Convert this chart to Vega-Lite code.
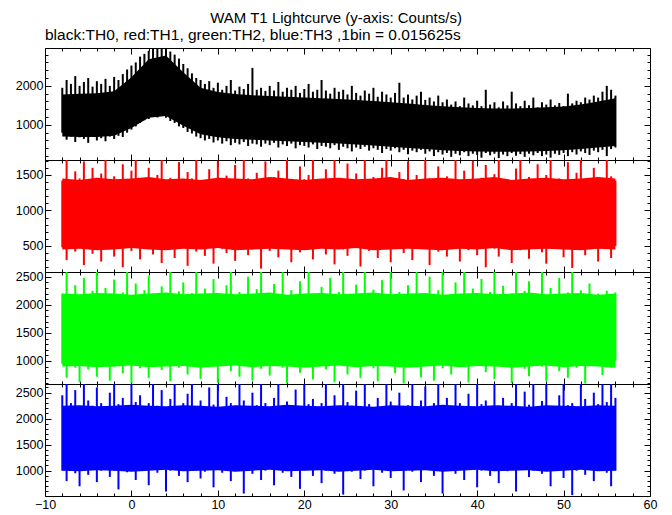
{
"$schema":"https://vega.github.io/schema/vega-lite/v6.json",
"background":"white",
"padding":{"left":14,"top":10,"right":5,"bottom":5},
"title":{"text":"WAM T1 Lightcurve (y-axis: Counts/s)","anchor":"middle","fontSize":15,"fontWeight":"normal","font":"Liberation Sans","color":"black","offset":2},
"datasets":{
"core":[
{"t":-8,"k0":700,"k1":1780,"r0":450,"r1":1450,"g0":900,"g1":2200,"b0":1000,"b1":2250},
{"t":-6,"k0":690,"k1":1800,"r0":460,"r1":1430,"g0":910,"g1":2190,"b0":990,"b1":2260},
{"t":-4,"k0":690,"k1":1810,"r0":440,"r1":1460,"g0":890,"g1":2210,"b0":1010,"b1":2240},
{"t":-2,"k0":720,"k1":1860,"r0":450,"r1":1440,"g0":900,"g1":2200,"b0":1000,"b1":2250},
{"t":0,"k0":920,"k1":2220,"r0":470,"r1":1450,"g0":920,"g1":2180,"b0":980,"b1":2270},
{"t":2,"k0":1180,"k1":2680,"r0":450,"r1":1470,"g0":890,"g1":2200,"b0":1000,"b1":2250},
{"t":4,"k0":1230,"k1":2780,"r0":440,"r1":1440,"g0":900,"g1":2220,"b0":1020,"b1":2240},
{"t":6,"k0":980,"k1":2350,"r0":460,"r1":1450,"g0":910,"g1":2190,"b0":990,"b1":2260},
{"t":8,"k0":760,"k1":1950,"r0":450,"r1":1430,"g0":880,"g1":2200,"b0":1000,"b1":2250},
{"t":10,"k0":680,"k1":1840,"r0":470,"r1":1460,"g0":900,"g1":2210,"b0":1010,"b1":2230},
{"t":12,"k0":640,"k1":1790,"r0":440,"r1":1450,"g0":920,"g1":2190,"b0":980,"b1":2260},
{"t":14,"k0":620,"k1":1760,"r0":450,"r1":1440,"g0":890,"g1":2200,"b0":1000,"b1":2250},
{"t":16,"k0":600,"k1":1740,"r0":460,"r1":1470,"g0":910,"g1":2220,"b0":1020,"b1":2240},
{"t":18,"k0":580,"k1":1720,"r0":450,"r1":1450,"g0":900,"g1":2180,"b0":990,"b1":2270},
{"t":20,"k0":560,"k1":1700,"r0":440,"r1":1430,"g0":880,"g1":2200,"b0":1000,"b1":2250},
{"t":22,"k0":540,"k1":1680,"r0":460,"r1":1450,"g0":900,"g1":2210,"b0":1010,"b1":2240},
{"t":24,"k0":520,"k1":1660,"r0":450,"r1":1460,"g0":920,"g1":2190,"b0":980,"b1":2260},
{"t":26,"k0":500,"k1":1640,"r0":470,"r1":1440,"g0":890,"g1":2200,"b0":1000,"b1":2250},
{"t":28,"k0":470,"k1":1610,"r0":440,"r1":1450,"g0":910,"g1":2220,"b0":1020,"b1":2230},
{"t":30,"k0":440,"k1":1580,"r0":450,"r1":1470,"g0":900,"g1":2190,"b0":990,"b1":2260},
{"t":32,"k0":410,"k1":1550,"r0":460,"r1":1430,"g0":880,"g1":2200,"b0":1000,"b1":2250},
{"t":34,"k0":380,"k1":1510,"r0":450,"r1":1450,"g0":900,"g1":2210,"b0":1010,"b1":2240},
{"t":36,"k0":350,"k1":1480,"r0":440,"r1":1460,"g0":920,"g1":2180,"b0":980,"b1":2270},
{"t":38,"k0":330,"k1":1450,"r0":460,"r1":1440,"g0":890,"g1":2200,"b0":1000,"b1":2250},
{"t":40,"k0":320,"k1":1430,"r0":450,"r1":1450,"g0":910,"g1":2210,"b0":1020,"b1":2240},
{"t":42,"k0":310,"k1":1420,"r0":470,"r1":1470,"g0":900,"g1":2190,"b0":990,"b1":2260},
{"t":44,"k0":310,"k1":1420,"r0":440,"r1":1430,"g0":880,"g1":2200,"b0":1000,"b1":2250},
{"t":46,"k0":320,"k1":1430,"r0":450,"r1":1450,"g0":900,"g1":2220,"b0":1010,"b1":2230},
{"t":48,"k0":330,"k1":1450,"r0":460,"r1":1460,"g0":920,"g1":2190,"b0":980,"b1":2260},
{"t":50,"k0":350,"k1":1470,"r0":450,"r1":1440,"g0":890,"g1":2200,"b0":1000,"b1":2250},
{"t":52,"k0":380,"k1":1520,"r0":440,"r1":1450,"g0":910,"g1":2210,"b0":1020,"b1":2240},
{"t":54,"k0":420,"k1":1600,"r0":460,"r1":1470,"g0":900,"g1":2180,"b0":990,"b1":2260},
{"t":56,"k0":460,"k1":1680,"r0":450,"r1":1450,"g0":880,"g1":2200,"b0":1000,"b1":2250}
],
"lc":[
{"t":-8,"k0":800,"k1":1950,"r0":480,"r1":1420,"g0":950,"g1":2200,"b0":1000,"b1":2450},
{"t":-7.5,"k0":620,"k1":2150,"r0":300,"r1":1710,"g0":700,"g1":2585,"b0":800,"b1":2667},
{"t":-7,"k0":700,"k1":2050,"r0":520,"r1":1380,"g0":1000,"g1":2150,"b0":1080,"b1":2300},
{"t":-6.5,"k0":560,"k1":2250,"r0":420,"r1":1550,"g0":880,"g1":2350,"b0":950,"b1":2550},
{"t":-6,"k0":680,"k1":2000,"r0":550,"r1":1450,"g0":620,"g1":2100,"b0":700,"b1":2200},
{"t":-5.5,"k0":640,"k1":2100,"r0":230,"r1":1690,"g0":960,"g1":2480,"b0":1050,"b1":2667},
{"t":-5,"k0":540,"k1":2200,"r0":470,"r1":1400,"g0":850,"g1":2180,"b0":920,"b1":2350},
{"t":-4.5,"k0":700,"k1":1980,"r0":390,"r1":1600,"g0":1020,"g1":2250,"b0":1100,"b1":2250},
{"t":-4,"k0":600,"k1":2120,"r0":510,"r1":1360,"g0":720,"g1":2585,"b0":780,"b1":2600},
{"t":-3.5,"k0":660,"k1":2050,"r0":280,"r1":1520,"g0":930,"g1":2120,"b0":1000,"b1":2300},
{"t":-3,"k0":580,"k1":2180,"r0":460,"r1":1710,"g0":990,"g1":2300,"b0":1060,"b1":2180},
{"t":-2.5,"k0":700,"k1":2000,"r0":540,"r1":1430,"g0":650,"g1":2160,"b0":880,"b1":2500},
{"t":-2,"k0":640,"k1":2230,"r0":350,"r1":1480,"g0":900,"g1":2450,"b0":1000,"b1":2667},
{"t":-1.5,"k0":720,"k1":2150,"r0":500,"r1":1390,"g0":1010,"g1":2090,"b0":640,"b1":2280},
{"t":-1,"k0":690,"k1":2300,"r0":200,"r1":1650,"g0":780,"g1":2220,"b0":1080,"b1":2400},
{"t":-0.5,"k0":800,"k1":2420,"r0":480,"r1":1410,"g0":940,"g1":2585,"b0":970,"b1":2150},
{"t":0,"k0":880,"k1":2520,"r0":430,"r1":1560,"g0":600,"g1":2140,"b0":1040,"b1":2667},
{"t":0.5,"k0":960,"k1":2600,"r0":520,"r1":1710,"g0":980,"g1":2380,"b0":820,"b1":2320},
{"t":1,"k0":1050,"k1":2750,"r0":310,"r1":1370,"g0":870,"g1":2110,"b0":1000,"b1":2450},
{"t":1.5,"k0":1120,"k1":2820,"r0":470,"r1":1440,"g0":1000,"g1":2260,"b0":1090,"b1":2200},
{"t":2,"k0":1150,"k1":2900,"r0":550,"r1":1600,"g0":700,"g1":2520,"b0":720,"b1":2300},
{"t":2.5,"k0":1250,"k1":2970,"r0":380,"r1":1400,"g0":950,"g1":2170,"b0":1020,"b1":2667},
{"t":3,"k0":1190,"k1":2970,"r0":490,"r1":1500,"g0":1020,"g1":2100,"b0":960,"b1":2250},
{"t":3.5,"k0":1260,"k1":2950,"r0":260,"r1":1710,"g0":840,"g1":2330,"b0":1080,"b1":2550},
{"t":4,"k0":1180,"k1":2970,"r0":510,"r1":1380,"g0":910,"g1":2190,"b0":600,"b1":2160},
{"t":4.5,"k0":1100,"k1":2880,"r0":450,"r1":1460,"g0":640,"g1":2585,"b0":1000,"b1":2380},
{"t":5,"k0":1050,"k1":2800,"r0":330,"r1":1420,"g0":990,"g1":2080,"b0":1050,"b1":2667},
{"t":5.5,"k0":960,"k1":2700,"r0":530,"r1":1680,"g0":880,"g1":2240,"b0":900,"b1":2230},
{"t":6,"k0":920,"k1":2560,"r0":470,"r1":1390,"g0":1000,"g1":2400,"b0":1090,"b1":2300},
{"t":6.5,"k0":820,"k1":2450,"r0":220,"r1":1540,"g0":760,"g1":2130,"b0":780,"b1":2480},
{"t":7,"k0":780,"k1":2320,"r0":500,"r1":1450,"g0":930,"g1":2210,"b0":1010,"b1":2667},
{"t":7.5,"k0":700,"k1":2200,"r0":420,"r1":1710,"g0":1010,"g1":2585,"b0":1070,"b1":2200},
{"t":8,"k0":660,"k1":2150,"r0":540,"r1":1410,"g0":680,"g1":2150,"b0":850,"b1":2350},
{"t":8.5,"k0":600,"k1":2050,"r0":360,"r1":1370,"g0":960,"g1":2290,"b0":980,"b1":2150},
{"t":9,"k0":640,"k1":2120,"r0":480,"r1":1580,"g0":890,"g1":2100,"b0":1100,"b1":2600},
{"t":9.5,"k0":550,"k1":1950,"r0":250,"r1":1430,"g0":1000,"g1":2460,"b0":680,"b1":2270},
{"t":10,"k0":600,"k1":2080,"r0":520,"r1":1700,"g0":610,"g1":2180,"b0":1030,"b1":2667},
{"t":10.5,"k0":520,"k1":1900,"r0":460,"r1":1400,"g0":940,"g1":2120,"b0":960,"b1":2190},
{"t":11,"k0":580,"k1":2000,"r0":400,"r1":1490,"g0":1020,"g1":2350,"b0":1080,"b1":2420},
{"t":11.5,"k0":480,"k1":2150,"r0":530,"r1":1360,"g0":820,"g1":2585,"b0":800,"b1":2300},
{"t":12,"k0":540,"k1":1880,"r0":290,"r1":1640,"g0":970,"g1":2090,"b0":1000,"b1":2220},
{"t":12.5,"k0":500,"k1":1980,"r0":490,"r1":1420,"g0":720,"g1":2230,"b0":1060,"b1":2667},
{"t":13,"k0":560,"k1":1920,"r0":510,"r1":1710,"g0":1000,"g1":2160,"b0":560,"b1":2350},
{"t":13.5,"k0":460,"k1":2050,"r0":370,"r1":1450,"g0":900,"g1":2500,"b0":1020,"b1":2180},
{"t":14,"k0":520,"k1":2460,"r0":450,"r1":1390,"g0":650,"g1":2110,"b0":940,"b1":2500},
{"t":14.5,"k0":500,"k1":1900,"r0":540,"r1":1530,"g0":980,"g1":2280,"b0":1090,"b1":2260},
{"t":15,"k0":440,"k1":1950,"r0":180,"r1":1410,"g0":860,"g1":2585,"b0":820,"b1":2667},
{"t":15.5,"k0":520,"k1":1870,"r0":480,"r1":1690,"g0":1010,"g1":2140,"b0":1000,"b1":2300},
{"t":16,"k0":480,"k1":2000,"r0":430,"r1":1380,"g0":740,"g1":2200,"b0":1050,"b1":2170},
{"t":16.5,"k0":540,"k1":1880,"r0":520,"r1":1470,"g0":950,"g1":2370,"b0":720,"b1":2400},
{"t":17,"k0":420,"k1":2100,"r0":340,"r1":1560,"g0":1000,"g1":2100,"b0":1080,"b1":2667},
{"t":17.5,"k0":500,"k1":1850,"r0":500,"r1":1400,"g0":880,"g1":2585,"b0":960,"b1":2240},
{"t":18,"k0":460,"k1":1950,"r0":470,"r1":1710,"g0":600,"g1":2170,"b0":1040,"b1":2330},
{"t":18.5,"k0":520,"k1":1900,"r0":270,"r1":1430,"g0":960,"g1":2260,"b0":880,"b1":2150},
{"t":19,"k0":400,"k1":2000,"r0":530,"r1":1370,"g0":1020,"g1":2080,"b0":1100,"b1":2560},
{"t":19.5,"k0":480,"k1":1820,"r0":410,"r1":1620,"g0":790,"g1":2420,"b0":650,"b1":2200},
{"t":20,"k0":460,"k1":1920,"r0":490,"r1":1440,"g0":930,"g1":2150,"b0":1010,"b1":2667},
{"t":20.5,"k0":420,"k1":2050,"r0":550,"r1":1500,"g0":990,"g1":2585,"b0":1070,"b1":2280},
{"t":21,"k0":500,"k1":1850,"r0":310,"r1":1710,"g0":670,"g1":2190,"b0":900,"b1":2380},
{"t":21.5,"k0":380,"k1":1900,"r0":460,"r1":1390,"g0":910,"g1":2110,"b0":1030,"b1":2190},
{"t":22,"k0":460,"k1":2150,"r0":520,"r1":1420,"g0":1010,"g1":2320,"b0":760,"b1":2300},
{"t":22.5,"k0":440,"k1":1880,"r0":380,"r1":1580,"g0":850,"g1":2140,"b0":1000,"b1":2667},
{"t":23,"k0":400,"k1":1800,"r0":490,"r1":1360,"g0":960,"g1":2480,"b0":1090,"b1":2210},
{"t":23.5,"k0":480,"k1":1950,"r0":240,"r1":1710,"g0":620,"g1":2100,"b0":940,"b1":2450},
{"t":24,"k0":360,"k1":1850,"r0":510,"r1":1450,"g0":1000,"g1":2230,"b0":1050,"b1":2170},
{"t":24.5,"k0":440,"k1":1900,"r0":450,"r1":1410,"g0":920,"g1":2585,"b0":540,"b1":2667},
{"t":25,"k0":400,"k1":1780,"r0":360,"r1":1660,"g0":760,"g1":2160,"b0":1020,"b1":2320},
{"t":25.5,"k0":320,"k1":2000,"r0":540,"r1":1390,"g0":980,"g1":2090,"b0":980,"b1":2250},
{"t":26,"k0":420,"k1":1820,"r0":470,"r1":1520,"g0":1020,"g1":2360,"b0":1080,"b1":2540},
{"t":26.5,"k0":380,"k1":1750,"r0":210,"r1":1430,"g0":700,"g1":2200,"b0":840,"b1":2180},
{"t":27,"k0":440,"k1":1880,"r0":500,"r1":1710,"g0":940,"g1":2585,"b0":1000,"b1":2667},
{"t":27.5,"k0":340,"k1":1800,"r0":430,"r1":1380,"g0":1000,"g1":2120,"b0":1060,"b1":2280},
{"t":28,"k0":400,"k1":1950,"r0":530,"r1":1470,"g0":870,"g1":2270,"b0":700,"b1":2200},
{"t":28.5,"k0":360,"k1":1720,"r0":330,"r1":1400,"g0":640,"g1":2150,"b0":1030,"b1":2400},
{"t":29,"k0":280,"k1":1850,"r0":480,"r1":1600,"g0":990,"g1":2440,"b0":960,"b1":2160},
{"t":29.5,"k0":380,"k1":1780,"r0":520,"r1":1710,"g0":910,"g1":2100,"b0":1090,"b1":2667},
{"t":30,"k0":340,"k1":1700,"r0":270,"r1":1420,"g0":1020,"g1":2585,"b0":860,"b1":2330},
{"t":30.5,"k0":400,"k1":1820,"r0":460,"r1":1370,"g0":780,"g1":2180,"b0":1010,"b1":2230},
{"t":31,"k0":300,"k1":2080,"r0":540,"r1":1540,"g0":950,"g1":2230,"b0":1070,"b1":2500},
{"t":31.5,"k0":360,"k1":1700,"r0":400,"r1":1440,"g0":600,"g1":2090,"b0":620,"b1":2190},
{"t":32,"k0":250,"k1":1780,"r0":490,"r1":1690,"g0":1000,"g1":2350,"b0":1040,"b1":2260},
{"t":32.5,"k0":340,"k1":1650,"r0":300,"r1":1410,"g0":890,"g1":2160,"b0":980,"b1":2667},
{"t":33,"k0":300,"k1":1750,"r0":510,"r1":1500,"g0":960,"g1":2585,"b0":1100,"b1":2180},
{"t":33.5,"k0":360,"k1":1850,"r0":470,"r1":1380,"g0":710,"g1":2110,"b0":780,"b1":2350},
{"t":34,"k0":260,"k1":1640,"r0":550,"r1":1710,"g0":1010,"g1":2200,"b0":1020,"b1":2620},
{"t":34.5,"k0":320,"k1":1700,"r0":230,"r1":1450,"g0":930,"g1":2500,"b0":1060,"b1":2210},
{"t":35,"k0":200,"k1":1600,"r0":480,"r1":1400,"g0":650,"g1":2140,"b0":900,"b1":2300},
{"t":35.5,"k0":300,"k1":1750,"r0":420,"r1":1620,"g0":980,"g1":2260,"b0":1000,"b1":2667},
{"t":36,"k0":240,"k1":1580,"r0":520,"r1":1360,"g0":870,"g1":2585,"b0":560,"b1":2170},
{"t":36.5,"k0":280,"k1":1650,"r0":350,"r1":1480,"g0":1000,"g1":2100,"b0":1080,"b1":2400},
{"t":37,"k0":180,"k1":1520,"r0":470,"r1":1430,"g0":760,"g1":2180,"b0":1010,"b1":2240},
{"t":37.5,"k0":260,"k1":1600,"r0":540,"r1":1710,"g0":950,"g1":2400,"b0":940,"b1":2667},
{"t":38,"k0":220,"k1":1480,"r0":280,"r1":1390,"g0":1020,"g1":2120,"b0":1070,"b1":2300},
{"t":38.5,"k0":300,"k1":1700,"r0":500,"r1":1560,"g0":900,"g1":2585,"b0":820,"b1":2190},
{"t":39,"k0":200,"k1":1550,"r0":440,"r1":1420,"g0":620,"g1":2150,"b0":1040,"b1":2480},
{"t":39.5,"k0":260,"k1":1500,"r0":520,"r1":1700,"g0":990,"g1":2290,"b0":1090,"b1":2220},
{"t":40,"k0":230,"k1":1620,"r0":370,"r1":1370,"g0":940,"g1":2090,"b0":680,"b1":2667},
{"t":40.5,"k0":160,"k1":1480,"r0":490,"r1":1460,"g0":1000,"g1":2460,"b0":1000,"b1":2280},
{"t":41,"k0":280,"k1":1900,"r0":200,"r1":1640,"g0":800,"g1":2170,"b0":1060,"b1":2350},
{"t":41.5,"k0":220,"k1":1520,"r0":510,"r1":1400,"g0":960,"g1":2230,"b0":900,"b1":2160},
{"t":42,"k0":260,"k1":1580,"r0":460,"r1":1510,"g0":680,"g1":2585,"b0":1030,"b1":2667},
{"t":42.5,"k0":150,"k1":1450,"r0":350,"r1":1710,"g0":1010,"g1":2110,"b0":760,"b1":2250},
{"t":43,"k0":240,"k1":1600,"r0":530,"r1":1380,"g0":920,"g1":2340,"b0":1080,"b1":2400},
{"t":43.5,"k0":200,"k1":1500,"r0":480,"r1":1440,"g0":980,"g1":2160,"b0":990,"b1":2180},
{"t":44,"k0":280,"k1":1850,"r0":260,"r1":1410,"g0":610,"g1":2200,"b0":1050,"b1":2300},
{"t":44.5,"k0":210,"k1":1550,"r0":500,"r1":1590,"g0":950,"g1":2585,"b0":600,"b1":2667},
{"t":45,"k0":250,"k1":1480,"r0":440,"r1":1710,"g0":1000,"g1":2080,"b0":1020,"b1":2200},
{"t":45.5,"k0":180,"k1":1620,"r0":540,"r1":1390,"g0":860,"g1":2250,"b0":1070,"b1":2520},
{"t":46,"k0":260,"k1":1500,"r0":320,"r1":1470,"g0":730,"g1":2420,"b0":880,"b1":2270},
{"t":46.5,"k0":220,"k1":1700,"r0":490,"r1":1360,"g0":990,"g1":2130,"b0":1000,"b1":2667},
{"t":47,"k0":280,"k1":1450,"r0":520,"r1":1650,"g0":1020,"g1":2190,"b0":1090,"b1":2190},
{"t":47.5,"k0":200,"k1":1580,"r0":410,"r1":1420,"g0":900,"g1":2585,"b0":940,"b1":2340},
{"t":48,"k0":240,"k1":1520,"r0":250,"r1":1500,"g0":640,"g1":2150,"b0":1040,"b1":2667},
{"t":48.5,"k0":160,"k1":1650,"r0":500,"r1":1710,"g0":960,"g1":2300,"b0":700,"b1":2230},
{"t":49,"k0":260,"k1":1500,"r0":470,"r1":1400,"g0":1000,"g1":2100,"b0":1010,"b1":2170},
{"t":49.5,"k0":230,"k1":1560,"r0":530,"r1":1450,"g0":820,"g1":2480,"b0":1080,"b1":2450},
{"t":50,"k0":280,"k1":1480,"r0":340,"r1":1380,"g0":940,"g1":2170,"b0":860,"b1":2667},
{"t":50.5,"k0":200,"k1":1800,"r0":480,"r1":1680,"g0":700,"g1":2220,"b0":1030,"b1":2260},
{"t":51,"k0":300,"k1":1550,"r0":190,"r1":1430,"g0":1010,"g1":2585,"b0":530,"b1":2300},
{"t":51.5,"k0":240,"k1":1620,"r0":510,"r1":1530,"g0":880,"g1":2120,"b0":1000,"b1":2200},
{"t":52,"k0":320,"k1":1580,"r0":450,"r1":1710,"g0":960,"g1":2260,"b0":1060,"b1":2667},
{"t":52.5,"k0":280,"k1":1700,"r0":370,"r1":1390,"g0":600,"g1":2140,"b0":920,"b1":2380},
{"t":53,"k0":230,"k1":1650,"r0":540,"r1":1410,"g0":990,"g1":2380,"b0":1080,"b1":2210},
{"t":53.5,"k0":340,"k1":1750,"r0":490,"r1":1600,"g0":920,"g1":2100,"b0":800,"b1":2500},
{"t":54,"k0":300,"k1":1700,"r0":280,"r1":1440,"g0":1010,"g1":2200,"b0":1020,"b1":2280},
{"t":54.5,"k0":360,"k1":1850,"r0":510,"r1":1370,"g0":750,"g1":2150,"b0":1050,"b1":2667},
{"t":55,"k0":200,"k1":2000,"r0":460,"r1":1710,"g0":950,"g1":2250,"b0":960,"b1":2320},
{"t":55.5,"k0":380,"k1":1900,"r0":330,"r1":1480,"g0":880,"g1":2180,"b0":700,"b1":2667},
{"t":56,"k0":420,"k1":1750,"r0":500,"r1":1420,"g0":1000,"g1":2220,"b0":1000,"b1":2400}
]},
"data":{"name":"lc"},
"spacing":0,
"bounds":"flush",
"vconcat":[
{"width":605,"height":112,
 "title":{"text":"black:TH0, red:TH1, green:TH2, blue:TH3 ,1bin = 0.015625s","anchor":"start","frame":"group","fontSize":15.5,"fontWeight":"normal","font":"Liberation Sans","color":"black","offset":4},
 "layer":[
  {"data":{"name":"core"},"mark":{"type":"area","color":"#000000","clip":true},
   "encoding":{
    "x":{"field":"t","type":"quantitative","scale":{"domain":[-10,60],"nice":false,"zero":false},"axis":{"orient":"bottom","values":[-10,0,10,20,30,40,50,60],"labels":false,"title":null,"offset":-6,"tickSize":6}},
    "y":{"field":"k0","type":"quantitative","scale":{"domain":[100,2970],"nice":false,"zero":false},"axis":{"orient":"left","values":[1000,2000],"format":"d","title":null,"offset":-6,"tickSize":6}},
    "y2":{"field":"k1"}}},
  {"mark":{"type":"rule","color":"#000000","strokeWidth":2,"clip":true},
   "encoding":{
    "x":{"field":"t","type":"quantitative","scale":{"domain":[-10,60],"nice":false,"zero":false},"axis":{"orient":"bottom","values":[-8,-6,-4,-2,2,4,6,8,12,14,16,18,22,24,26,28,32,34,36,38,42,44,46,48,52,54,56,58],"labels":false,"title":null,"offset":-3,"tickSize":3}},
    "y":{"field":"k0","type":"quantitative","scale":{"domain":[100,2970],"nice":false,"zero":false},"axis":{"orient":"left","values":[200,400,600,800,1200,1400,1600,1800,2200,2400,2600,2800],"labels":false,"title":null,"offset":-3,"tickSize":3}},
    "y2":{"field":"k1"}}},
  {"mark":{"type":"point","opacity":0},
   "encoding":{
    "x":{"field":"t","type":"quantitative","scale":{"domain":[-10,60],"nice":false,"zero":false},"axis":{"orient":"top","values":[-10,0,10,20,30,40,50,60],"labels":false,"title":null,"offset":-6,"tickSize":6}},
    "y":{"field":"k0","type":"quantitative","scale":{"domain":[100,2970],"nice":false,"zero":false},"axis":{"orient":"right","values":[1000,2000],"labels":false,"title":null,"offset":-6,"tickSize":6}}}},
  {"mark":{"type":"point","opacity":0},
   "encoding":{
    "x":{"field":"t","type":"quantitative","scale":{"domain":[-10,60],"nice":false,"zero":false},"axis":{"orient":"top","values":[-8,-6,-4,-2,2,4,6,8,12,14,16,18,22,24,26,28,32,34,36,38,42,44,46,48,52,54,56,58],"labels":false,"title":null,"offset":-3,"tickSize":3}},
    "y":{"field":"k0","type":"quantitative","scale":{"domain":[100,2970],"nice":false,"zero":false},"axis":{"orient":"right","values":[200,400,600,800,1200,1400,1600,1800,2200,2400,2600,2800],"labels":false,"title":null,"offset":-3,"tickSize":3}}}}
 ],
 "resolve":{"axis":{"x":"independent","y":"independent"}}},
{"width":605,"height":112,
 "layer":[
  {"data":{"name":"core"},"mark":{"type":"area","color":"#ff0000","clip":true},
   "encoding":{
    "x":{"field":"t","type":"quantitative","scale":{"domain":[-10,60],"nice":false,"zero":false},"axis":{"orient":"bottom","values":[-10,0,10,20,30,40,50,60],"labels":false,"title":null,"offset":-6,"tickSize":6}},
    "y":{"field":"r0","type":"quantitative","scale":{"domain":[133,1710],"nice":false,"zero":false},"axis":{"orient":"left","values":[500,1000,1500],"format":"d","title":null,"offset":-6,"tickSize":6}},
    "y2":{"field":"r1"}}},
  {"mark":{"type":"rule","color":"#ff0000","strokeWidth":2,"clip":true},
   "encoding":{
    "x":{"field":"t","type":"quantitative","scale":{"domain":[-10,60],"nice":false,"zero":false},"axis":{"orient":"bottom","values":[-8,-6,-4,-2,2,4,6,8,12,14,16,18,22,24,26,28,32,34,36,38,42,44,46,48,52,54,56,58],"labels":false,"title":null,"offset":-3,"tickSize":3}},
    "y":{"field":"r0","type":"quantitative","scale":{"domain":[133,1710],"nice":false,"zero":false},"axis":{"orient":"left","values":[200,300,400,600,700,800,900,1100,1200,1300,1400,1600,1700],"labels":false,"title":null,"offset":-3,"tickSize":3}},
    "y2":{"field":"r1"}}},
  {"mark":{"type":"point","opacity":0},
   "encoding":{
    "x":{"field":"t","type":"quantitative","scale":{"domain":[-10,60],"nice":false,"zero":false},"axis":{"orient":"top","values":[-10,0,10,20,30,40,50,60],"labels":false,"title":null,"offset":-6,"tickSize":6}},
    "y":{"field":"r0","type":"quantitative","scale":{"domain":[133,1710],"nice":false,"zero":false},"axis":{"orient":"right","values":[500,1000,1500],"labels":false,"title":null,"offset":-6,"tickSize":6}}}},
  {"mark":{"type":"point","opacity":0},
   "encoding":{
    "x":{"field":"t","type":"quantitative","scale":{"domain":[-10,60],"nice":false,"zero":false},"axis":{"orient":"top","values":[-8,-6,-4,-2,2,4,6,8,12,14,16,18,22,24,26,28,32,34,36,38,42,44,46,48,52,54,56,58],"labels":false,"title":null,"offset":-3,"tickSize":3}},
    "y":{"field":"r0","type":"quantitative","scale":{"domain":[133,1710],"nice":false,"zero":false},"axis":{"orient":"right","values":[200,300,400,600,700,800,900,1100,1200,1300,1400,1600,1700],"labels":false,"title":null,"offset":-3,"tickSize":3}}}}
 ],
 "resolve":{"axis":{"x":"independent","y":"independent"}}},
{"width":605,"height":112,
 "layer":[
  {"data":{"name":"core"},"mark":{"type":"area","color":"#00ff00","clip":true},
   "encoding":{
    "x":{"field":"t","type":"quantitative","scale":{"domain":[-10,60],"nice":false,"zero":false},"axis":{"orient":"bottom","values":[-10,0,10,20,30,40,50,60],"labels":false,"title":null,"offset":-6,"tickSize":6}},
    "y":{"field":"g0","type":"quantitative","scale":{"domain":[590,2585],"nice":false,"zero":false},"axis":{"orient":"left","values":[1000,1500,2000,2500],"format":"d","title":null,"offset":-6,"tickSize":6}},
    "y2":{"field":"g1"}}},
  {"mark":{"type":"rule","color":"#00ff00","strokeWidth":2,"clip":true},
   "encoding":{
    "x":{"field":"t","type":"quantitative","scale":{"domain":[-10,60],"nice":false,"zero":false},"axis":{"orient":"bottom","values":[-8,-6,-4,-2,2,4,6,8,12,14,16,18,22,24,26,28,32,34,36,38,42,44,46,48,52,54,56,58],"labels":false,"title":null,"offset":-3,"tickSize":3}},
    "y":{"field":"g0","type":"quantitative","scale":{"domain":[590,2585],"nice":false,"zero":false},"axis":{"orient":"left","values":[600,700,800,900,1100,1200,1300,1400,1600,1700,1800,1900,2100,2200,2300,2400],"labels":false,"title":null,"offset":-3,"tickSize":3}},
    "y2":{"field":"g1"}}},
  {"mark":{"type":"point","opacity":0},
   "encoding":{
    "x":{"field":"t","type":"quantitative","scale":{"domain":[-10,60],"nice":false,"zero":false},"axis":{"orient":"top","values":[-10,0,10,20,30,40,50,60],"labels":false,"title":null,"offset":-6,"tickSize":6}},
    "y":{"field":"g0","type":"quantitative","scale":{"domain":[590,2585],"nice":false,"zero":false},"axis":{"orient":"right","values":[1000,1500,2000,2500],"labels":false,"title":null,"offset":-6,"tickSize":6}}}},
  {"mark":{"type":"point","opacity":0},
   "encoding":{
    "x":{"field":"t","type":"quantitative","scale":{"domain":[-10,60],"nice":false,"zero":false},"axis":{"orient":"top","values":[-8,-6,-4,-2,2,4,6,8,12,14,16,18,22,24,26,28,32,34,36,38,42,44,46,48,52,54,56,58],"labels":false,"title":null,"offset":-3,"tickSize":3}},
    "y":{"field":"g0","type":"quantitative","scale":{"domain":[590,2585],"nice":false,"zero":false},"axis":{"orient":"right","values":[600,700,800,900,1100,1200,1300,1400,1600,1700,1800,1900,2100,2200,2300,2400],"labels":false,"title":null,"offset":-3,"tickSize":3}}}}
 ],
 "resolve":{"axis":{"x":"independent","y":"independent"}}},
{"width":605,"height":112,
 "layer":[
  {"data":{"name":"core"},"mark":{"type":"area","color":"#0000ff","clip":true},
   "encoding":{
    "x":{"field":"t","type":"quantitative","scale":{"domain":[-10,60],"nice":false,"zero":false},"axis":{"orient":"bottom","values":[-10,0,10,20,30,40,50,60],"format":"d","title":null,"offset":-6,"tickSize":6}},
    "y":{"field":"b0","type":"quantitative","scale":{"domain":[513,2667],"nice":false,"zero":false},"axis":{"orient":"left","values":[1000,1500,2000,2500],"format":"d","title":null,"offset":-6,"tickSize":6}},
    "y2":{"field":"b1"}}},
  {"mark":{"type":"rule","color":"#0000ff","strokeWidth":2,"clip":true},
   "encoding":{
    "x":{"field":"t","type":"quantitative","scale":{"domain":[-10,60],"nice":false,"zero":false},"axis":{"orient":"bottom","values":[-8,-6,-4,-2,2,4,6,8,12,14,16,18,22,24,26,28,32,34,36,38,42,44,46,48,52,54,56,58],"labels":false,"title":null,"offset":-3,"tickSize":3}},
    "y":{"field":"b0","type":"quantitative","scale":{"domain":[513,2667],"nice":false,"zero":false},"axis":{"orient":"left","values":[600,700,800,900,1100,1200,1300,1400,1600,1700,1800,1900,2100,2200,2300,2400,2600],"labels":false,"title":null,"offset":-3,"tickSize":3}},
    "y2":{"field":"b1"}}},
  {"mark":{"type":"point","opacity":0},
   "encoding":{
    "x":{"field":"t","type":"quantitative","scale":{"domain":[-10,60],"nice":false,"zero":false},"axis":{"orient":"top","values":[-10,0,10,20,30,40,50,60],"labels":false,"title":null,"offset":-6,"tickSize":6}},
    "y":{"field":"b0","type":"quantitative","scale":{"domain":[513,2667],"nice":false,"zero":false},"axis":{"orient":"right","values":[1000,1500,2000,2500],"labels":false,"title":null,"offset":-6,"tickSize":6}}}},
  {"mark":{"type":"point","opacity":0},
   "encoding":{
    "x":{"field":"t","type":"quantitative","scale":{"domain":[-10,60],"nice":false,"zero":false},"axis":{"orient":"top","values":[-8,-6,-4,-2,2,4,6,8,12,14,16,18,22,24,26,28,32,34,36,38,42,44,46,48,52,54,56,58],"labels":false,"title":null,"offset":-3,"tickSize":3}},
    "y":{"field":"b0","type":"quantitative","scale":{"domain":[513,2667],"nice":false,"zero":false},"axis":{"orient":"right","values":[600,700,800,900,1100,1200,1300,1400,1600,1700,1800,1900,2100,2200,2300,2400,2600],"labels":false,"title":null,"offset":-3,"tickSize":3}}}}
 ],
 "resolve":{"axis":{"x":"independent","y":"independent"}}}
],
"config":{
 "view":{"stroke":"black","strokeWidth":1},
 "font":"Liberation Sans",
 "axis":{"domain":false,"grid":false,"tickColor":"black","tickWidth":1,"labelColor":"black","labelFont":"Liberation Sans","labelFontSize":12.5,"labelFlush":false,"labelOverlap":false,"labelPadding":2}
}
}
